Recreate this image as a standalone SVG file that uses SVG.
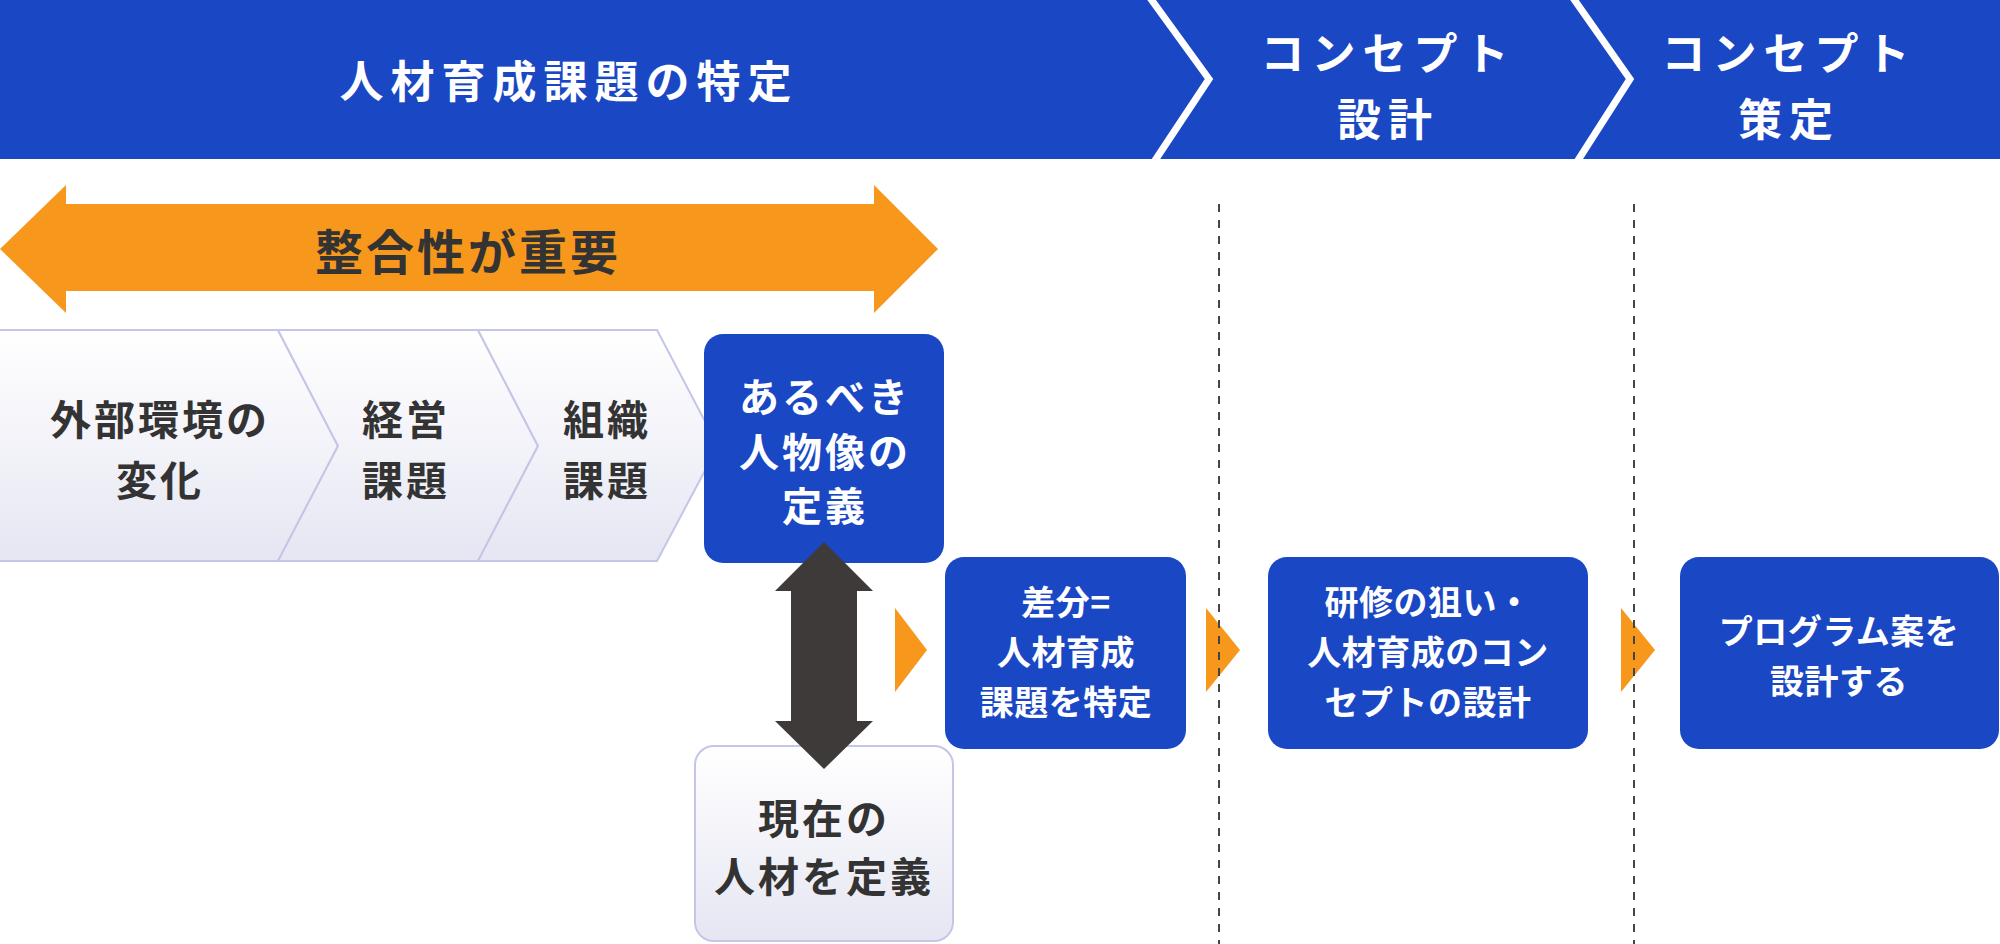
<svg xmlns="http://www.w3.org/2000/svg" width="2000" height="944" viewBox="0 0 2000 944">
<defs>
<linearGradient id="g" x1="0" y1="0" x2="0" y2="1">
<stop offset="0" stop-color="#ffffff"/>
<stop offset="1" stop-color="#e6e6f3"/>
</linearGradient>
<style>
text{font-family:"Noto Sans CJK JP","Noto Sans",sans-serif;font-weight:700;text-anchor:middle;dominant-baseline:central}
.hd{fill:#fff;font-size:44px;letter-spacing:7px}
.dk{fill:#333;font-size:41px;letter-spacing:3px}
.wl{fill:#fff;font-size:40px;letter-spacing:3px}
.ws{fill:#fff;font-size:34px;letter-spacing:0.5px}
.blue{fill:#1a47c4}
.pale{fill:url(#g);stroke:#c3c6e6;stroke-width:2}
.tri{fill:#f7981d}
.dash{stroke:#444;stroke-width:2;stroke-dasharray:8 8;fill:none}
</style>
</defs>
<g id="header">
<rect x="0" y="0" width="2000" height="159" class="blue"/>
<polyline points="1148,-5 1209,79 1152,165" fill="none" stroke="#fff" stroke-width="7"/>
<polyline points="1571,-5 1630,79 1575,165" fill="none" stroke="#fff" stroke-width="7"/>
<text class="hd" x="569" y="79">人材育成課題の特定</text>
<text class="hd" x="1388" y="51">コンセプト</text>
<text class="hd" x="1388" y="117">設計</text>
<text class="hd" x="1789" y="51">コンセプト</text>
<text class="hd" x="1789" y="117">策定</text>
</g>
<g id="n-env">
<polygon class="pale" points="-2,330 278,330 338,446 278,561 -2,561"/>
<text class="dk" x="160" y="417">外部環境の</text>
<text class="dk" x="160" y="478">変化</text>
</g>
<g id="n-mgmt">
<polygon class="pale" points="278,330 478,330 538,446 478,561 278,561 338,446"/>
<text class="dk" x="406" y="417">経営</text>
<text class="dk" x="406" y="478">課題</text>
</g>
<g id="n-org">
<polygon class="pale" points="478,330 657,330 718,446 657,561 478,561 538,446"/>
<text class="dk" x="607" y="417">組織</text>
<text class="dk" x="607" y="478">課題</text>
</g>
<g id="n-ideal">
<rect x="704" y="334" width="240" height="229" rx="19" class="blue"/>
<text class="wl" x="825" y="395">あるべき</text>
<text class="wl" x="825" y="450">人物像の</text>
<text class="wl" x="825" y="504">定義</text>
</g>
<g id="n-current">
<rect x="695" y="746" width="258" height="195" rx="19" class="pale"/>
<text class="dk" x="824" y="816">現在の</text>
<text class="dk" x="824" y="874">人材を定義</text>
</g>
<g id="n-gap">
<rect x="945" y="557" width="241" height="192" rx="19" class="blue"/>
<text class="ws" x="1066" y="600">差分=</text>
<text class="ws" x="1066" y="650">人材育成</text>
<text class="ws" x="1066" y="700">課題を特定</text>
</g>
<g id="n-concept">
<rect x="1268" y="557" width="320" height="192" rx="19" class="blue"/>
<text class="ws" x="1428" y="600">研修の狙い・</text>
<text class="ws" x="1428" y="650">人材育成のコン</text>
<text class="ws" x="1428" y="700">セプトの設計</text>
</g>
<g id="n-program">
<rect x="1680" y="557" width="319" height="192" rx="19" class="blue"/>
<text class="ws" x="1839" y="629">プログラム案を</text>
<text class="ws" x="1839" y="679">設計する</text>
</g>
<g id="connectors">
<polygon points="0,249 66,185 66,204 874,204 874,185 938,249 874,313 874,291 66,291 66,313" fill="#f7981d"/>
<text x="468" y="249" style="fill:#333;font-size:48px;letter-spacing:3px">整合性が重要</text>
<polygon points="824,542 873,591 857,591 857,721 873,721 824,769 775,721 791,721 791,591 775,591" fill="#3e3a39"/>
<polygon class="tri" points="895,608 927,650 895,692"/>
<polygon class="tri" points="1206,608 1240,650 1206,692"/>
<polygon class="tri" points="1621,608 1655,650 1621,692"/>
<line class="dash" x1="1219" y1="204" x2="1219" y2="944"/>
<line class="dash" x1="1634" y1="204" x2="1634" y2="944"/>
</g>
</svg>
